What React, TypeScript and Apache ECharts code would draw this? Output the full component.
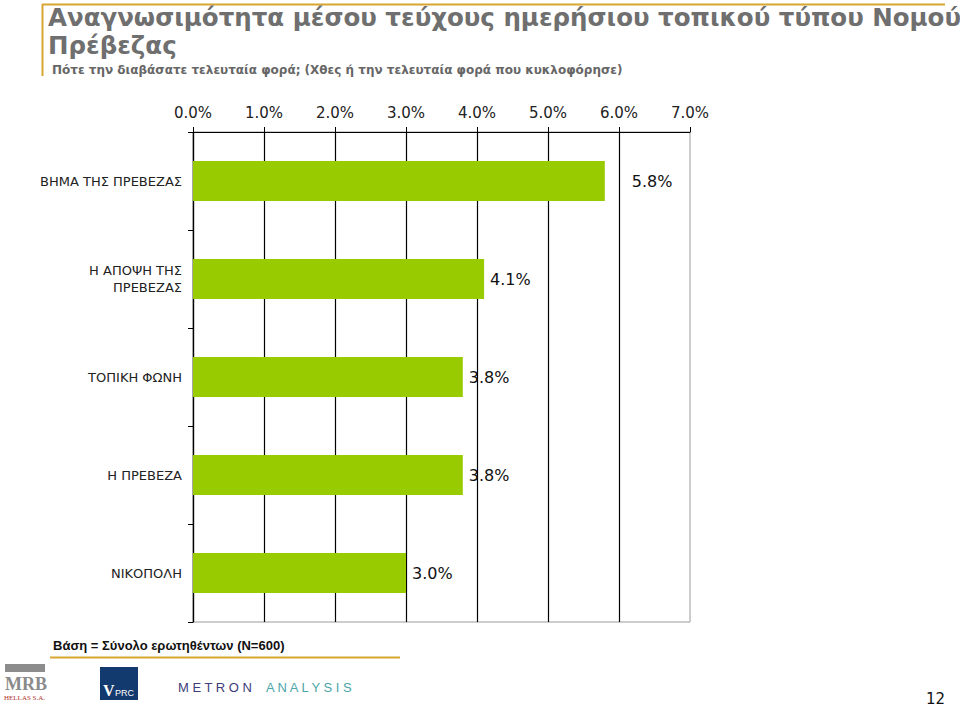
import React, { useEffect, useRef } from "react";
import * as echarts from "echarts";

const categories = [
  "ΒΗΜΑ ΤΗΣ ΠΡΕΒΕΖΑΣ",
  "Η ΑΠΟΨΗ ΤΗΣ\nΠΡΕΒΕΖΑΣ",
  "ΤΟΠΙΚΗ ΦΩΝΗ",
  "Η ΠΡΕΒΕΖΑ",
  "ΝΙΚΟΠΟΛΗ",
];
const values = [5.8, 4.1, 3.8, 3.8, 3.0];
const axisMax = 7;
const axisInterval = 1;

const titleLine1 = "Αναγνωσιμότητα μέσου τεύχους ημερήσιου τοπικού τύπου Νομού";
const titleLine2 = "Πρέβεζας";
const subtitle = "Πότε την διαβάσατε τελευταία φορά; (Χθες ή την τελευταία φορά που κυκλοφόρησε)";
const footnote = "Βάση = Σύνολο ερωτηθέντων (N=600)";
const pageNumber = "12";

const GOLD = "#d6a630";
const TITLE_GRAY = "#6f6f6f";
const FONT = "DejaVu Sans, Verdana, sans-serif";

export default function App() {
  const ref = useRef<HTMLDivElement>(null);
  useEffect(() => {
    const chart = echarts.init(ref.current!, null, { renderer: "svg" });
    chart.setOption({
      animation: false,
      backgroundColor: "#ffffff",
      grid: {
        left: 193,
        right: 270,
        top: 132,
        height: 490,
        show: true,
        borderColor: "#9a9a9a",
        borderWidth: 1,
        backgroundColor: "transparent",
      },
      xAxis: {
        type: "value",
        position: "top",
        min: 0,
        max: axisMax,
        interval: axisInterval,
        axisLine: { show: true, lineStyle: { color: "#000", width: 1 } },
        axisTick: { show: true, length: 5, lineStyle: { color: "#000" } },
        axisLabel: {
          margin: 12,
          fontFamily: FONT,
          fontSize: 15,
          color: "#222",
          formatter: (v: number) => v.toFixed(1) + "%",
        },
        splitLine: { show: true, showMaxLine: false, lineStyle: { color: "#000", width: 1.2 } },
      },
      yAxis: {
        type: "category",
        inverse: true,
        data: categories,
        axisLine: { show: true, lineStyle: { color: "#000", width: 1.2 } },
        axisTick: { show: true, length: 5, lineStyle: { color: "#000" } },
        axisLabel: {
          margin: 11,
          fontFamily: FONT,
          fontSize: 13,
          color: "#222",
          lineHeight: 17,
          align: "right",
        },
      },
      series: [
        {
          type: "bar",
          data: values.map((v, i) =>
            i === 0 ? { value: v, label: { distance: 27 } } : { value: v }
          ),
          barCategoryGap: "59%",
          itemStyle: { color: "#99cc00" },
          label: {
            show: true,
            position: "right",
            distance: 6,
            fontFamily: FONT,
            fontSize: 16,
            color: "#111",
            formatter: (p: any) => Number(p.value).toFixed(1) + "%",
          },
        },
      ],
      graphic: [
        { type: "line", shape: { x1: 42, y1: 4.5, x2: 945, y2: 4.5 }, style: { stroke: GOLD, lineWidth: 2 } },
        { type: "line", shape: { x1: 42.5, y1: 4, x2: 42.5, y2: 76 }, style: { stroke: GOLD, lineWidth: 2 } },
        {
          type: "text",
          left: 48,
          top: 5,
          style: { text: titleLine1, font: `bold 24.5px ${FONT}`, fill: TITLE_GRAY },
        },
        {
          type: "text",
          left: 48,
          top: 33,
          style: { text: titleLine2, font: `bold 24.5px ${FONT}`, fill: TITLE_GRAY },
        },
        {
          type: "text",
          left: 52,
          top: 64,
          style: { text: subtitle, font: `bold 12px ${FONT}`, fill: "#666" },
        },
        {
          type: "text",
          left: 53,
          top: 639,
          style: { text: footnote, font: `bold 13px "Liberation Sans", Arial, sans-serif`, fill: "#111" },
        },
        { type: "line", shape: { x1: 50, y1: 657.5, x2: 400, y2: 657.5 }, style: { stroke: GOLD, lineWidth: 2 } },
        { type: "rect", shape: { x: 5, y: 664, width: 40, height: 8 }, style: { fill: "#8c8c8c" } },
        {
          type: "text",
          left: 5,
          top: 675,
          style: { text: "MRB", font: `bold 18px "Liberation Serif", serif`, fill: "#8a8a8a" },
        },
        {
          type: "text",
          left: 4,
          top: 694,
          style: { text: "HELLAS S.A.", font: `7px "Liberation Serif", serif`, fill: "#b0302a" },
        },
        { type: "rect", shape: { x: 100, y: 667, width: 38, height: 33 }, style: { fill: "#123a6e" } },
        {
          type: "text",
          left: 103,
          top: 682,
          style: { text: "V", font: `bold 16px "Liberation Serif", serif`, fill: "#ffffff" },
        },
        {
          type: "text",
          left: 115,
          top: 688,
          style: { text: "PRC", font: `9px "Liberation Sans", sans-serif`, fill: "#ffffff" },
        },
        {
          type: "text",
          left: 178,
          top: 681,
          style: { text: "M E T R O N", font: `13px "Liberation Sans", sans-serif`, fill: "#3d3d7a" },
        },
        {
          type: "text",
          left: 266,
          top: 681,
          style: { text: "A N A L Y S I S", font: `13px "Liberation Sans", sans-serif`, fill: "#4aa6a8" },
        },
        {
          type: "text",
          left: 926,
          top: 691,
          style: { text: pageNumber, font: `15px ${FONT}`, fill: "#111" },
        },
      ],
    });
    return () => chart.dispose();
  }, []);
  return (
    <div
      ref={ref}
      style={{ position: "fixed", left: 0, top: 0, width: 960, height: 708, background: "#fff" }}
    />
  );
}
